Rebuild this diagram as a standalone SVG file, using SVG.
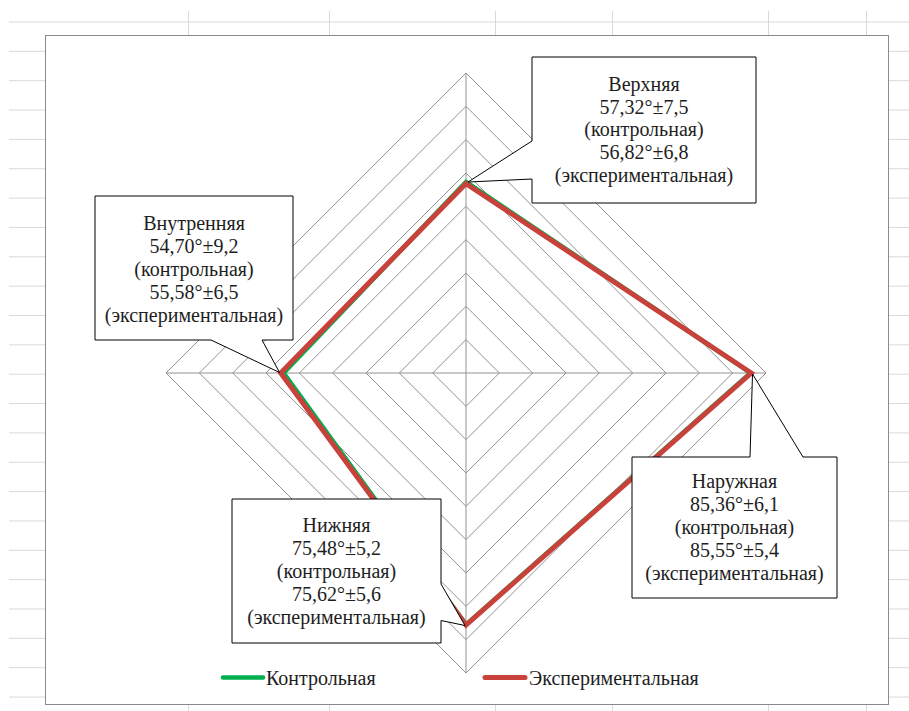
<svg xmlns="http://www.w3.org/2000/svg" width="909" height="711" viewBox="0 0 909 711">
<style>
.sheet{stroke:#d9d9d9;stroke-width:1;fill:none}
.grid{stroke:#929292;stroke-width:1;fill:none}
.ctrl{stroke:#00b050;stroke-width:4.5;fill:none;stroke-linejoin:miter}
.exp{stroke:#c8423b;stroke-width:5;fill:none;stroke-linejoin:miter}
.callout{fill:#ffffff;stroke:#000000;stroke-width:1}
.lbl{font-family:"Liberation Serif","Times New Roman",serif;font-size:20px;fill:#1e1e1e;text-anchor:middle}
.leg{font-family:"Liberation Serif","Times New Roman",serif;font-size:20px;fill:#1e1e1e}
</style>
<rect x="0" y="0" width="909" height="711" fill="#ffffff"/>
<g id="sheet-grid" class="sheet">
<path d="M9,22H909M9,51.35H909M9,80.7H909M9,110.05H909M9,139.4H909M9,168.75H909M9,198.1H909M9,227.45H909M9,256.8H909M9,286.15H909M9,315.5H909M9,344.85H909M9,374.2H909M9,403.55H909M9,432.9H909M9,462.25H909M9,491.6H909M9,520.95H909M9,550.3H909M9,579.65H909M9,609H909M9,638.35H909M9,667.7H909M9,697.05H909"/>
<path d="M188.5,11V711M329.5,11V711M495.5,11V711M612.5,11V711M768.5,11V711M866.5,11V711"/>
</g>
<rect id="chart-area" x="45.5" y="35.5" width="843" height="669" fill="#ffffff" stroke="#8a8a8a" stroke-width="1"/>
<g id="radar-grid" class="grid">
<polygon points="466,339.67 499.33,373 466,406.33 432.67,373"/>
<polygon points="466,306.33 532.67,373 466,439.67 399.33,373"/>
<polygon points="466,273 566,373 466,473 366,373"/>
<polygon points="466,239.67 599.33,373 466,506.33 332.67,373"/>
<polygon points="466,206.33 632.67,373 466,539.67 299.33,373"/>
<polygon points="466,173 666,373 466,573 266,373"/>
<polygon points="466,139.67 699.33,373 466,606.33 232.67,373"/>
<polygon points="466,106.33 732.67,373 466,639.67 199.33,373"/>
<polygon points="466,73 766,373 466,673 166,373"/>
<path d="M466,73V673M166,373H766"/>
</g>
<g id="series">
<polygon id="series-control" class="ctrl" points="466,181.9 750.5,373 466,624.6 283.7,373"/>
<polygon id="series-experimental" class="exp" points="466,183.6 751.2,373 466,625.1 280.7,373"/>
</g>
<g id="connectors"></g>
<g id="callout-top">
<polygon class="callout" points="532,57 756,57 756,203 532,203 532,179 468,182 532,141"/>
<text class="lbl" x="644" y="91">Верхняя</text>
<text class="lbl" x="644" y="113.7">57,32°±7,5</text>
<text class="lbl" x="644" y="136.4">(контрольная)</text>
<text class="lbl" x="644" y="159.1">56,82°±6,8</text>
<text class="lbl" x="644" y="181.8">(экспериментальная)</text>
</g>
<g id="callout-inner">
<polygon class="callout" points="95,196 293,196 293,340 262,340 279.5,372.5 211,340 95,340"/>
<text class="lbl" x="194" y="230">Внутренняя</text>
<text class="lbl" x="194" y="253">54,70°±9,2</text>
<text class="lbl" x="194" y="276">(контрольная)</text>
<text class="lbl" x="194" y="299">55,58°±6,5</text>
<text class="lbl" x="194" y="322">(экспериментальная)</text>
</g>
<g id="callout-outer">
<polygon class="callout" points="632,457 750,457 752.5,374 803,457 837,457 837,598 632,598"/>
<text class="lbl" x="734.5" y="488">Наружная</text>
<text class="lbl" x="734.5" y="511">85,36°±6,1</text>
<text class="lbl" x="734.5" y="534">(контрольная)</text>
<text class="lbl" x="734.5" y="557">85,55°±5,4</text>
<text class="lbl" x="734.5" y="580">(экспериментальная)</text>
</g>
<g id="callout-bottom">
<polygon class="callout" points="232,499 441,499 441,584 465,625.5 441,620.5 441,643 232,643"/>
<text class="lbl" x="336.5" y="532">Нижняя</text>
<text class="lbl" x="336.5" y="555">75,48°±5,2</text>
<text class="lbl" x="336.5" y="578">(контрольная)</text>
<text class="lbl" x="336.5" y="601">75,62°±5,6</text>
<text class="lbl" x="336.5" y="624">(экспериментальная)</text>
</g>
<g id="legend">
<line x1="223" y1="677.5" x2="263" y2="677.5" stroke="#00b050" stroke-width="4.5" stroke-linecap="round"/>
<text class="leg" x="266" y="685">Контрольная</text>
<line x1="485" y1="677.5" x2="525" y2="677.5" stroke="#c8423b" stroke-width="5" stroke-linecap="round"/>
<text class="leg" x="529" y="685">Экспериментальная</text>
</g>
</svg>
